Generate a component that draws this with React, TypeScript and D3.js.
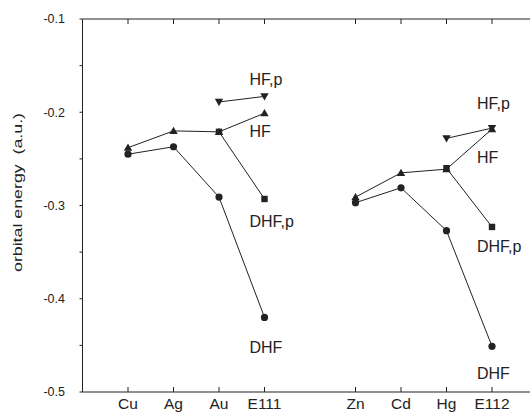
import React from "react";
import * as d3 from "d3";

const categories = ["Cu", "Ag", "Au", "E111", "Zn", "Cd", "Hg", "E112"];
const categoryPos = [1, 2, 3, 4, 6, 7, 8, 9];
const yTicks = [-0.1, -0.2, -0.3, -0.4, -0.5];
const yMinorTicks = [-0.15, -0.25, -0.35, -0.45];

const hfG1 = [-0.238, -0.220, -0.221, -0.201];
const hfG2 = [-0.291, -0.265, -0.261, -0.218];
const dhfG1 = [-0.245, -0.237, -0.291, -0.420];
const dhfG2 = [-0.297, -0.281, -0.327, -0.451];
const hfpG1 = [-0.189, -0.183];
const hfpG2 = [-0.228, -0.217];
const dhfpG1 = [-0.221, -0.293];
const dhfpG2 = [-0.260, -0.323];

const g1Cats = ["Cu", "Ag", "Au", "E111"];
const g2Cats = ["Zn", "Cd", "Hg", "E112"];

const labelTexts = ["HF,p", "HF", "DHF,p", "DHF", "HF,p", "HF", "DHF,p", "DHF"];
const labelCats = ["E111", "E111", "E111", "E111", "E112", "E112", "E112", "E112"];
const labelVals = [-0.171, -0.2265, -0.323, -0.458, -0.1965, -0.2545, -0.350, -0.486];

type Shape = "circle" | "up" | "down" | "square";

const W = 530;
const H = 412;
const x = d3.scaleLinear().domain([0, 10]).range([82.5, 537.5]);
const y = d3.scaleLinear().domain([-0.5, -0.1]).range([392, 19]);
const posOf = (c: string) => categoryPos[categories.indexOf(c)];

const color = "#222";
const font = "'Liberation Sans', Arial, Helvetica, sans-serif";

function Marker({ cx, cy, shape }: { cx: number; cy: number; shape: Shape }) {
  if (shape === "circle") return <circle cx={cx} cy={cy} r={3.6} fill={color} />;
  if (shape === "square")
    return <rect x={cx - 3.2} y={cy - 3.2} width={6.4} height={6.4} fill={color} />;
  const s = 4.2;
  if (shape === "up")
    return <path d={`M${cx},${cy - s} L${cx + s},${cy + s * 0.75} L${cx - s},${cy + s * 0.75} Z`} fill={color} />;
  return <path d={`M${cx},${cy + s} L${cx + s},${cy - s * 0.75} L${cx - s},${cy - s * 0.75} Z`} fill={color} />;
}

function Series({ cats, vals, shape }: { cats: string[]; vals: number[]; shape: Shape }) {
  const pts: [number, number][] = cats.map((c, i) => [x(posOf(c)), y(vals[i])]);
  const line = d3.line()(pts) || "";
  return (
    <g>
      <path d={line} fill="none" stroke={color} strokeWidth={1} />
      {pts.map((p, i) => (
        <Marker key={i} cx={p[0]} cy={p[1]} shape={shape} />
      ))}
    </g>
  );
}

export default function App() {
  const x0 = x(0);
  const x1 = x(10);
  const yTop = y(-0.1);
  const yBot = y(-0.5);
  return (
    <svg width={W} height={H} style={{ position: "absolute", left: 0, top: 0, background: "#fff" }}>
      <rect width={W} height={H} fill="#fff" />
      <line x1={x0} y1={yTop} x2={x1} y2={yTop} stroke={color} strokeWidth={1} />
      <line x1={x0} y1={yBot} x2={x1} y2={yBot} stroke={color} strokeWidth={1} />
      <line x1={x0} y1={yTop} x2={x0} y2={yBot} stroke={color} strokeWidth={1} />
      {yTicks.map((t) => (
        <g key={t}>
          <line x1={x0 - 3} x2={x0} y1={y(t)} y2={y(t)} stroke={color} />
          <text x={65} y={y(t)} dy="0.35em" textAnchor="end" fontSize={12.5} fontFamily={font} fill={color}>
            {t.toFixed(1)}
          </text>
        </g>
      ))}
      {yMinorTicks.map((t) => (
        <line key={t} x1={x0 - 3} x2={x0} y1={y(t)} y2={y(t)} stroke={color} />
      ))}
      {categories.map((c, i) => (
        <g key={c}>
          <line x1={x(categoryPos[i])} x2={x(categoryPos[i])} y1={yBot} y2={yBot - 5} stroke={color} />
          <line x1={x(categoryPos[i])} x2={x(categoryPos[i])} y1={yTop} y2={yTop + 5} stroke={color} />
          <text x={x(categoryPos[i])} y={yBot + 17} textAnchor="middle" fontSize={15.5} fontFamily={font} fill={color}>
            {c}
          </text>
        </g>
      ))}
      <text
        transform={`translate(22,192.5) rotate(-90)`}
        textAnchor="middle"
        fontSize={13}
        fontFamily={font}
        fill={color}
        textLength={159}
        lengthAdjust="spacingAndGlyphs"
        style={{ whiteSpace: "pre" }}
      >
        {"orbital energy  (a.u.)"}
      </text>
      <Series cats={g1Cats} vals={hfG1} shape="up" />
      <Series cats={g2Cats} vals={hfG2} shape="up" />
      <Series cats={g1Cats} vals={dhfG1} shape="circle" />
      <Series cats={g2Cats} vals={dhfG2} shape="circle" />
      <Series cats={["Au", "E111"]} vals={dhfpG1} shape="square" />
      <Series cats={["Hg", "E112"]} vals={dhfpG2} shape="square" />
      <Series cats={["Au", "E111"]} vals={hfpG1} shape="down" />
      <Series cats={["Hg", "E112"]} vals={hfpG2} shape="down" />
      {labelTexts.map((t, i) => (
        <text key={i} x={x(posOf(labelCats[i])) - 15} y={y(labelVals[i])} fontSize={16} fontFamily={font} fill={color}>
          {t}
        </text>
      ))}
    </svg>
  );
}
